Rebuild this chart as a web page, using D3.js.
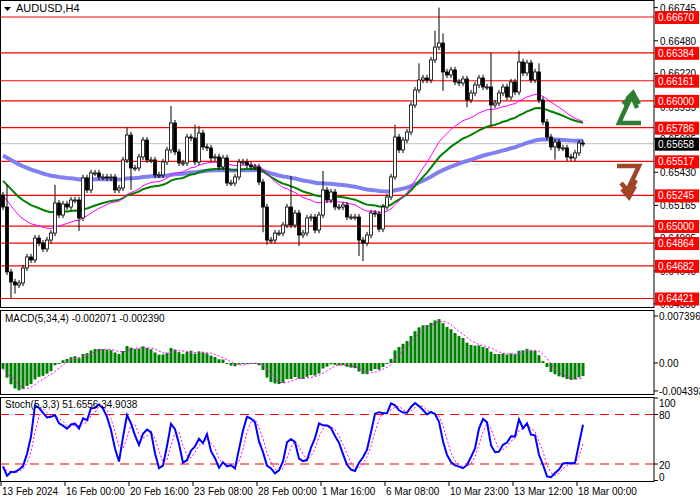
<!DOCTYPE html>
<html><head><meta charset="utf-8">
<script src="https://cdn.jsdelivr.net/npm/d3@7"></script>
<style>body{margin:0;background:#fff}svg{display:block;font-family:"Liberation Sans",Arial,sans-serif}</style>
</head><body><svg id="c" width="700" height="500"></svg>
<script>
const firstOpen = 0.65248;
const closes = [0.65152,0.64633,0.64553,0.64529,0.64545,0.64665,0.64753,0.64729,0.64904,0.64864,
0.64817,0.64888,0.64944,0.65184,0.65088,0.65176,0.65152,0.65208,0.65208,0.65064,
0.65384,0.65288,0.65424,0.65424,0.65392,0.65392,0.65384,0.65392,0.65288,0.65304,
0.65528,0.65727,0.65464,0.65464,0.65552,0.65687,0.65528,0.65528,0.65408,0.65408,
0.65512,0.65608,0.65823,0.65592,0.65504,0.65504,0.65711,0.65703,0.65512,0.65743,
0.65632,0.65624,0.65544,0.65552,0.65472,0.65544,0.65344,0.65344,0.65392,0.65512,
0.65512,0.65488,0.65472,0.65472,0.65352,0.65152,0.64888,0.64888,0.64944,0.64944,
0.65008,0.65152,0.65008,0.65104,0.64928,0.64944,0.65064,0.65072,0.64968,0.65088,
0.65288,0.65208,0.65272,0.65152,0.65152,0.65168,0.65072,0.65072,0.65072,0.64888,
0.64864,0.64928,0.65104,0.65096,0.64976,0.65152,0.65232,0.65392,0.65711,0.65608,
0.65687,0.65751,0.65967,0.66087,0.66167,0.66183,0.66167,0.66327,0.66430,0.66462,
0.66231,0.66207,0.66247,0.66151,0.66143,0.66175,0.66007,0.66063,0.66127,0.66183,
0.66111,0.66111,0.65967,0.65983,0.66063,0.66111,0.66031,0.66151,0.66071,0.66311,
0.66223,0.66303,0.66167,0.66231,0.66007,0.65831,0.65711,0.65632,0.65671,0.65624,
0.65624,0.65552,0.65544,0.65584,0.65663,0.65658];
const highOverrides = {1:0.65330,13:0.65330,31:0.65790,42:0.65960,48:0.65810,49:0.65800,72:0.65400,
 80:0.65440,98:0.65810,104:0.66300,108:0.66560,109:0.66745,110:0.66540,122:0.66384,129:0.66400,134:0.66300};
const lowOverrides = {2:0.64421,3:0.64460,19:0.64960,32:0.65290,65:0.64950,66:0.64850,74:0.64840,
 89:0.64760,90:0.64720,110:0.66080,116:0.65950,122:0.65800,138:0.65530,141:0.65520};
const resistLevels = [0.66670,0.66384,0.66161,0.66000,0.65786];
const supportLevels = [0.65517,0.65245,0.65000,0.64864,0.64682,0.64421];
const currentPrice = 0.65658;
const priceTicks = [0.66745,0.66480,0.66220,0.65955,0.65695,0.65430,0.65165,0.64905,0.64640,0.64380];
const dateLabels = ["13 Feb 2024","16 Feb 00:00","20 Feb 16:00","23 Feb 08:00","28 Feb 00:00","1 Mar 16:00","6 Mar 08:00","10 Mar 23:00","13 Mar 12:00","18 Mar 00:00"];
const dateIdx = [0,16,32,48,64,80,96,112,128,144];
const maSeeds = {slow:0.65570, mid:0.65370, fast:0.65250};
const macdLegend = [-0.002071, -0.002390];
const stochLegend = [51.6556, 34.9038];

const svg = d3.select("#c");
const n = closes.length;
const opens = closes.map((c,i)=> i===0 ? firstOpen : closes[i-1]);
const highs = closes.map((c,i)=> highOverrides[i] ?? Math.max(c,opens[i])+0.00025);
const lows = closes.map((c,i)=> lowOverrides[i] ?? Math.min(c,opens[i])-0.00025);

const x = d3.scaleLinear().domain([0,145]).range([3,583]);
const y = d3.scaleLinear().domain([0.66806,0.64409]).range([0,300]);
const RX = 654;
const FS = 10;

function ema(arr,p,seed){const k=2/(p+1);let e=seed;return arr.map(v=>(e=e+k*(v-e)));}
const maSlow = ema(closes,110,maSeeds.slow), maMid=ema(closes,45,maSeeds.mid), maFast=ema(closes,30,maSeeds.fast);

const g = svg.append("g");
[...resistLevels,...supportLevels].forEach(l=>g.append("line").attr("x1",0).attr("x2",RX).attr("y1",y(l)).attr("y2",y(l)).attr("stroke","#ff0000").attr("stroke-width",1.2));
g.append("line").attr("x1",0).attr("x2",RX).attr("y1",y(currentPrice)).attr("y2",y(currentPrice)).attr("stroke","#c0c0c0");

const line = d3.line().x((d,i)=>x(i)).y(d=>y(d));
g.append("path").attr("d",line(maSlow)).attr("fill","none").attr("stroke","#8080f0").attr("stroke-width",4);
g.append("path").attr("d",line(maMid)).attr("fill","none").attr("stroke","#008000").attr("stroke-width",2);
g.append("path").attr("d",line(maFast)).attr("fill","none").attr("stroke","#ff00ff").attr("stroke-width",1);

const cg = g.append("g");
closes.forEach((c,i)=>{
  const o=opens[i], X=x(i);
  cg.append("line").attr("x1",X).attr("x2",X).attr("y1",y(highs[i])).attr("y2",y(lows[i])).attr("stroke","#000");
  const top=y(Math.max(o,c)), h=Math.max(1,y(Math.min(o,c))-top);
  cg.append("rect").attr("x",X-1.5).attr("y",top).attr("width",3).attr("height",h)
    .attr("fill",c>=o?"#fff":"#000").attr("stroke","#000").attr("stroke-width",0.8);
});

svg.append("path").attr("d","M641,123 L619,123 L630,99 M623,104 L632,96 L637,108 M627,99 L633,93 L639,104")
  .attr("fill","none").attr("stroke","#2e7d32").attr("stroke-width",4.5);
svg.append("path").attr("d","M617,166 L639,166 L628,189 M621,183 L629,192 L636,180 M622,189 L629,197 L635,186")
  .attr("fill","none").attr("stroke","#a0452a").attr("stroke-width",4.5);

svg.append("path").attr("d","M4,7 L11,7 L7.5,11 Z").attr("fill","#000");
svg.append("text").attr("x",16).attr("y",12).attr("font-size",11).text("AUDUSD,H4");

priceTicks.forEach(p=>{
  svg.append("line").attr("x1",RX).attr("x2",RX+4).attr("y1",y(p)).attr("y2",y(p)).attr("stroke","#000");
  svg.append("text").attr("x",RX+6).attr("y",y(p)+4).attr("font-size",FS).text(p.toFixed(5));
});
[...resistLevels,...supportLevels].forEach(l=>{
  svg.append("rect").attr("x",RX+1).attr("y",y(l)-6).attr("width",44).attr("height",13).attr("fill","#ff0000");
  svg.append("text").attr("x",RX+4).attr("y",y(l)+4).attr("font-size",FS).attr("fill","#fff").text(l.toFixed(5));
});
svg.append("rect").attr("x",RX+1).attr("y",y(currentPrice)-6).attr("width",44).attr("height",13).attr("fill","#000");
svg.append("text").attr("x",RX+4).attr("y",y(currentPrice)+4).attr("font-size",FS).attr("fill","#fff").text(currentPrice.toFixed(5));

const e5=ema(closes,5,closes[0]), e34=ema(closes,34,maSeeds.fast);
const macd=e5.map((v,i)=>v-e34[i]);
const sig=macd.map((v,i)=>d3.mean(macd.slice(Math.max(0,i-3),i+1)));
const ym = d3.scaleLinear().domain([0.00834,-0.00472]).range([310,393]);
const mg=svg.append("g");
macd.forEach((v,i)=>mg.append("rect").attr("x",x(i)-1.5).attr("width",3).attr("y",Math.min(ym(v),ym(0))).attr("height",Math.max(1,Math.abs(ym(v)-ym(0)))).attr("fill","#008000"));
mg.append("path").attr("d",d3.line().x((d,i)=>x(i)).y(d=>ym(d))(sig)).attr("fill","none").attr("stroke","#ff00ff").attr("stroke-dasharray","2,2");
svg.append("text").attr("x",5).attr("y",322).attr("font-size",FS).text(`MACD(5,34,4) ${macdLegend[0].toFixed(6)} ${macdLegend[1].toFixed(6)}`);
[[0.007396,"0.007396"],[0,"0.00"],[-0.004393,"-0.004393"]].forEach(([v,t])=>{
  svg.append("line").attr("x1",RX).attr("x2",RX+4).attr("y1",ym(v)).attr("y2",ym(v)).attr("stroke","#000");
  svg.append("text").attr("x",RX+5).attr("y",ym(v)+4).attr("font-size",FS).text(t);
});

const K=[],raw=[];
for(let i=0;i<n;i++){
  const s=Math.max(0,i-4);
  const hh=d3.max(highs.slice(s,i+1)), ll=d3.min(lows.slice(s,i+1));
  raw.push([closes[i]-ll,hh-ll]);
  const r=raw.slice(Math.max(0,i-2),i+1);
  K.push(100*d3.sum(r,d=>d[0])/d3.sum(r,d=>d[1]));
}
const D=K.map((v,i)=>d3.mean(K.slice(Math.max(0,i-2),i+1)));
const ys=d3.scaleLinear().domain([0,100]).range([480.5,398]);
[80,20].forEach(l=>svg.append("line").attr("x1",0).attr("x2",RX).attr("y1",ys(l)).attr("y2",ys(l)).attr("stroke","#ff0000").attr("stroke-width",1.2).attr("stroke-dasharray","9,6"));
const sl=d3.line().x((d,i)=>x(i)).y(d=>ys(d));
svg.append("path").attr("d",sl(D)).attr("fill","none").attr("stroke","#ff00ff").attr("stroke-dasharray","2,2");
svg.append("path").attr("d",sl(K)).attr("fill","none").attr("stroke","#0000ff").attr("stroke-width",2);
svg.append("text").attr("x",5).attr("y",408).attr("font-size",FS).text(`Stoch(5,3,3) ${stochLegend[0].toFixed(4)} ${stochLegend[1].toFixed(4)}`);
[[100,403],[80,415],[20,465],[0,477]].forEach(([v,yy])=>{
  svg.append("line").attr("x1",RX).attr("x2",RX+4).attr("y1",ys(v)).attr("y2",ys(v)).attr("stroke","#000");
  svg.append("text").attr("x",RX+5).attr("y",yy+4).attr("font-size",FS).text(v);
});

[[0,307],[310,394],[397,481]].forEach(([t,b])=>svg.append("rect").attr("x",0.5).attr("y",t+0.5).attr("width",RX-0.5).attr("height",b-t).attr("fill","none").attr("stroke","#000"));

dateIdx.forEach((di,k)=>{
  const X=x(di)-2;
  svg.append("line").attr("x1",X).attr("x2",X).attr("y1",481).attr("y2",486).attr("stroke","#000");
  svg.append("text").attr("x",X+1).attr("y",495).attr("font-size",FS).text(dateLabels[k]);
});
</script></body></html>
